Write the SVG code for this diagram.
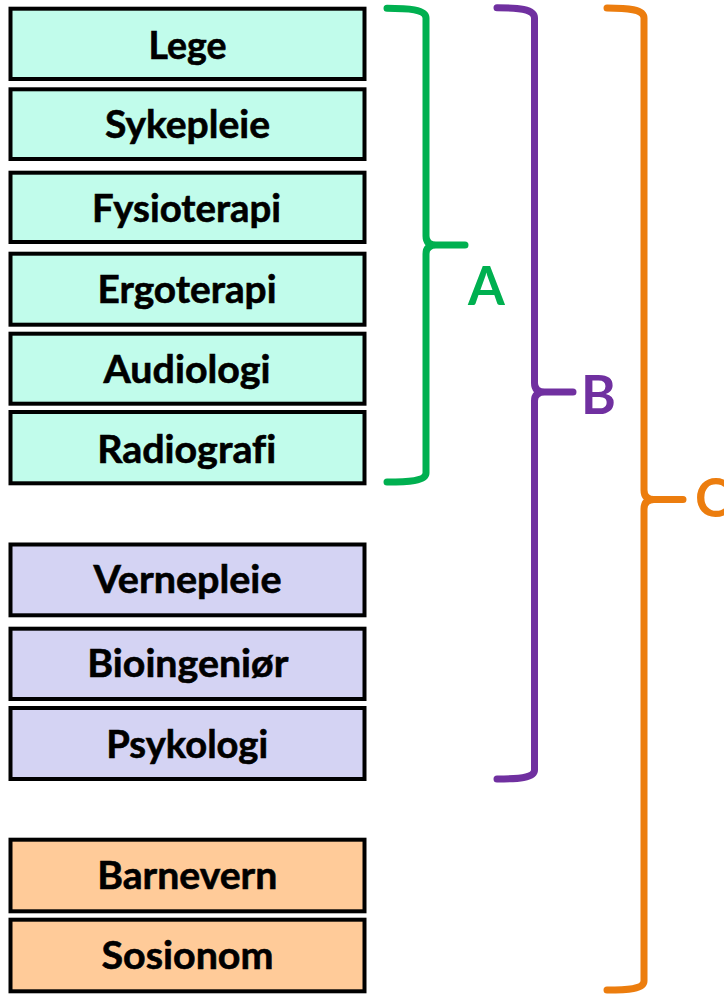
<svg xmlns="http://www.w3.org/2000/svg" width="724" height="997" viewBox="0 0 724 997">
  <style>
    .box { stroke: #000; stroke-width: 4; }
    .a { fill: #C1FCEB; }
    .b { fill: #D4D3F3; }
    .c { fill: #FFCB99; }
    .lbl { font-family: Lato, "Open Sans", "Liberation Sans", sans-serif; font-weight: 700; font-size: 39px; fill: #000; text-anchor: middle; font-variant-ligatures: none; stroke: #000; stroke-width: 0.6; }
    .brace { fill: none; stroke-width: 7; stroke-linecap: round; stroke-linejoin: round; }
    .tag { font-family: Lato, "Open Sans", "Liberation Sans", sans-serif; font-weight: 700; font-size: 53px; }
  </style>
  <rect width="724" height="997" fill="#fff"/>

  <!-- group A -->
  <g id="lege"><rect class="box a" x="10.5" y="8.7" width="354" height="70.3"/><text class="lbl" x="187.5" y="59.3" textLength="78" lengthAdjust="spacingAndGlyphs">Lege</text></g>
  <g id="sykepleie"><rect class="box a" x="10.5" y="89.3" width="354" height="69.7"/><text class="lbl" x="187.5" y="138.3" textLength="165" lengthAdjust="spacingAndGlyphs">Sykepleie</text></g>
  <g id="fysioterapi"><rect class="box a" x="10.5" y="172.7" width="354" height="69.3"/><text class="lbl" x="186.5" y="221.7" textLength="189" lengthAdjust="spacingAndGlyphs">Fysioterapi</text></g>
  <g id="ergoterapi"><rect class="box a" x="10.5" y="253.7" width="354" height="71"/><text class="lbl" x="187" y="302.7" textLength="179" lengthAdjust="spacingAndGlyphs">Ergoterapi</text></g>
  <g id="audiologi"><rect class="box a" x="10.5" y="333.7" width="354" height="70"/><text class="lbl" x="187" y="382.7" textLength="167" lengthAdjust="spacingAndGlyphs">Audiologi</text></g>
  <g id="radiografi"><rect class="box a" x="10.5" y="412" width="354" height="71.3"/><text class="lbl" x="186.7" y="462.7" textLength="179" lengthAdjust="spacingAndGlyphs">Radiografi</text></g>

  <!-- group B -->
  <g id="vernepleie"><rect class="box b" x="10.5" y="544.5" width="354" height="70.8"/><text class="lbl" x="187.5" y="593.3" textLength="188" lengthAdjust="spacingAndGlyphs">Vernepleie</text></g>
  <g id="bioingenior"><rect class="box b" x="10.5" y="628.7" width="354" height="70.3"/><text class="lbl" x="187.8" y="677.3" textLength="201" lengthAdjust="spacingAndGlyphs">Bioingeniør</text></g>
  <g id="psykologi"><rect class="box b" x="10.5" y="708" width="354" height="71"/><text class="lbl" x="187.2" y="758.3" textLength="162" lengthAdjust="spacingAndGlyphs">Psykologi</text></g>

  <!-- group C -->
  <g id="barnevern"><rect class="box c" x="10.5" y="839.7" width="354" height="71.6"/><text class="lbl" x="187.3" y="889.3" textLength="180" lengthAdjust="spacingAndGlyphs">Barnevern</text></g>
  <g id="sosionom"><rect class="box c" x="10.5" y="919.7" width="354" height="71.6"/><text class="lbl" x="187.5" y="969.3" textLength="172" lengthAdjust="spacingAndGlyphs">Sosionom</text></g>

  <!-- braces grouping the boxes -->
  <g id="connectors">
    <path class="brace" stroke="#00B050" d="M387,8.3 C408,8.3 426,9.5 426,18 L426,236 Q426,245 436,245 L465,245 M436,245 Q426,245 426,254 L426,473 C426,481 408,482 387,482"/>
    <path class="brace" stroke="#7030A0" d="M497,7.8 C518,7.8 534.5,9 534.5,18 L534.5,383 Q534.5,392 544.5,392 L573,392 M544.5,392 Q534.5,392 534.5,401 L534.5,770 C534.5,778 518,779 497,779"/>
    <path class="brace" stroke="#EC7D0E" d="M607,8 C628,8 644,9.2 644,18 L644,490 Q644,499.5 654,499.5 L683,499.5 M654,499.5 Q644,499.5 644,509 L644,981 C644,989 628,990 607,990"/>
  </g>

  <g id="tags">
    <text class="tag" x="486.5" y="305" text-anchor="middle" fill="#00B050">A</text>
    <text class="tag" x="581" y="413.5" fill="#7030A0">B</text>
    <text class="tag" x="695" y="516.7" fill="#EC7D0E">C</text>
  </g>
</svg>
